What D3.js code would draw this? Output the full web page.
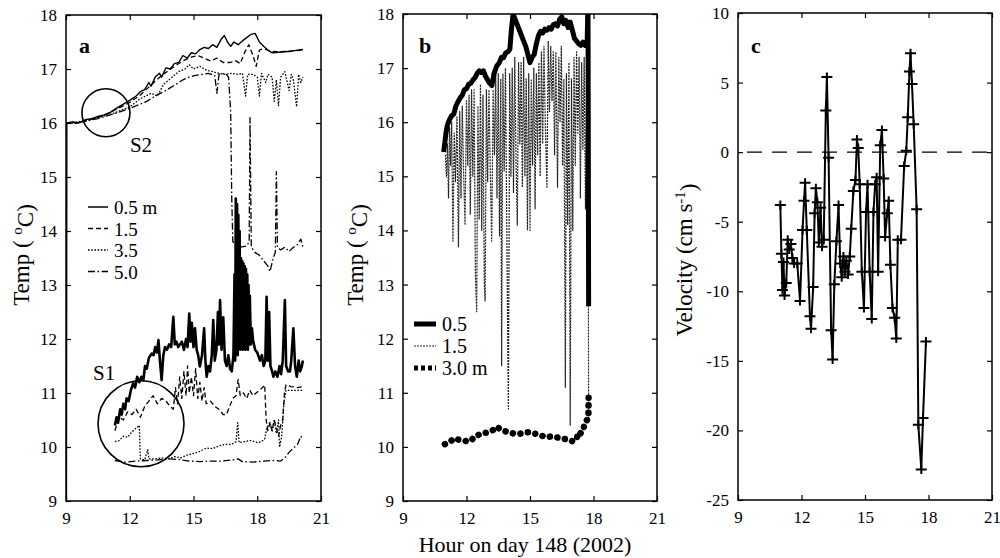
<!DOCTYPE html>
<html>
<head>
<meta charset="utf-8">
<script src="https://cdn.jsdelivr.net/npm/d3@7"></script>
<style>
  body { margin: 0; background: #fff; }
  svg { display: block; font-family: "Liberation Serif", "Times New Roman", serif; }
</style>
</head>
<body>
<div id="chart"></div>
<script>
// ---------------------------------------------------------------------------
// Data (hour on day 148, value)
// ---------------------------------------------------------------------------

const hourTicks = [9, 12, 15, 18, 21];
const tempTicks = [9, 10, 11, 12, 13, 14, 15, 16, 17, 18];
const velTicks  = [-25, -20, -15, -10, -5, 0, 5, 10];

const legendA = ['0.5 m', '1.5', '3.5', '5.0'];
const legendB = ['0.5', '1.5', '3.0 m'];

// circled sites in panel a: [hour, temp, label]
const sites = [[10.88, 16.19, 'S2'], [12.53, 10.43, 'S1']];

// panel a, site S2
const aS2_05 = [[9.02,9.0],[9.04,16.0],[9.3,16.02],[9.6,16.0],[9.9,16.06],[10.2,16.08],[10.5,16.12],[10.8,16.15],[11.1,16.2],[11.4,16.28],[11.7,16.35],[12.0,16.42],[12.3,16.5],[12.5,16.58],[12.7,16.62],[12.9,16.75],[13.0,16.68],[13.2,16.85],[13.4,16.92],[13.5,16.85],[13.7,17.02],[13.9,17.0],[14.1,17.1],[14.3,17.12],[14.5,17.25],[14.7,17.2],[14.9,17.3],[15.1,17.28],[15.3,17.36],[15.5,17.4],[15.7,17.38],[15.9,17.45],[16.1,17.4],[16.3,17.55],[16.45,17.62],[16.6,17.5],[16.75,17.42],[16.9,17.5],[17.1,17.45],[17.3,17.52],[17.5,17.58],[17.7,17.64],[17.9,17.66],[18.1,17.5],[18.3,17.42],[18.5,17.35],[18.7,17.3],[19.0,17.31],[19.3,17.32],[19.6,17.33],[19.9,17.35],[20.15,17.36]];
const aS2_15 = [[9.0,16.0],[9.5,16.0],[10.0,16.05],[10.5,16.1],[11.0,16.18],[11.5,16.28],[12.0,16.38],[12.5,16.52],[13.0,16.7],[13.5,16.88],[14.0,17.02],[14.5,17.15],[14.9,17.22],[15.2,17.25],[15.5,17.2],[15.8,17.15],[16.1,17.2],[16.4,17.12],[16.7,17.12],[17.0,17.15],[17.2,17.1],[17.4,17.3],[17.6,17.45],[17.8,17.25],[17.95,17.05],[18.1,17.35],[18.3,17.38],[18.6,17.33],[19.0,17.32],[19.5,17.33],[20.15,17.35]];
const aS2_35 = [[9.0,16.0],[9.5,16.02],[10.0,16.05],[10.5,16.1],[11.0,16.15],[11.5,16.22],[12.0,16.3],[12.5,16.45],[13.0,16.55],[13.3,16.5],[13.6,16.72],[14.0,16.85],[14.3,16.95],[14.6,17.0],[14.8,17.08],[15.0,17.0],[15.3,17.05],[15.6,16.98],[15.9,16.95],[16.2,16.92],[16.5,16.9],[16.8,16.92],[17.1,16.9],[17.3,16.92],[17.45,16.5],[17.55,16.9],[17.8,16.9],[18.0,16.85],[18.1,16.5],[18.2,16.92],[18.4,16.75],[18.5,16.9],[18.7,16.85],[18.8,16.4],[18.9,16.8],[19.0,16.32],[19.1,16.85],[19.3,16.95],[19.5,16.6],[19.6,16.9],[19.7,16.8],[19.85,16.3],[19.95,16.9],[20.05,16.75],[20.15,16.85]];
const aS2_50 = [[9.0,16.0],[9.5,16.0],[10.0,16.04],[10.5,16.08],[11.0,16.14],[11.5,16.2],[12.0,16.27],[12.5,16.35],[12.8,16.4],[13.0,16.45],[13.3,16.52],[13.6,16.58],[13.9,16.65],[14.2,16.72],[14.5,16.8],[14.8,16.85],[15.1,16.88],[15.4,16.9],[15.7,16.92],[16.0,16.88],[16.1,16.55],[16.2,16.9],[16.5,16.92],[16.65,16.85],[16.75,16.2],[16.8,14.6],[16.85,13.8],[17.0,13.75],[17.2,13.7],[17.5,13.72],[17.62,13.8],[17.66,16.1],[17.72,13.7],[17.9,13.6],[18.1,13.55],[18.3,13.45],[18.5,13.35],[18.6,13.25],[18.75,13.5],[18.85,13.6],[18.9,15.1],[18.95,13.7],[19.1,13.65],[19.3,13.7],[19.5,13.62],[19.7,13.7],[19.9,13.75],[20.05,13.85],[20.15,13.7]];

// panel a, site S1
const aS1_05 = [[11.3,10.4],[11.38,10.55],[11.45,10.45],[11.55,10.7],[11.62,10.6],[11.7,10.8],[11.78,10.7],[11.85,10.9],[11.95,10.85],[12.05,11.05],[12.16,11.18],[12.25,11.1],[12.35,11.3],[12.45,11.2],[12.55,11.3],[12.64,11.24],[12.72,11.5],[12.8,11.45],[12.9,11.65],[13.03,11.73],[13.12,11.7],[13.2,11.85],[13.28,11.75],[13.35,11.98],[13.42,11.6],[13.5,11.24],[13.58,11.7],[13.66,11.85],[13.75,11.8],[13.85,11.9],[13.95,11.85],[14.05,12.41],[14.12,11.9],[14.2,11.95],[14.28,11.85],[14.36,11.9],[14.45,11.95],[14.55,11.8],[14.65,12.0],[14.72,11.85],[14.8,12.47],[14.86,11.95],[14.92,12.3],[15.0,11.85],[15.07,12.2],[15.15,11.8],[15.22,11.7],[15.3,11.49],[15.4,11.7],[15.5,12.2],[15.56,11.6],[15.62,11.3],[15.7,11.5],[15.78,11.4],[15.86,11.7],[15.93,12.35],[16.0,11.6],[16.08,11.8],[16.15,12.5],[16.2,11.9],[16.25,12.72],[16.32,11.8],[16.4,12.4],[16.48,11.6],[16.56,11.5],[16.64,11.7],[16.72,11.45],[16.8,11.4],[16.88,11.7],[16.93,13.2],[16.96,11.6],[16.99,14.6],[17.02,11.8],[17.05,14.5],[17.08,11.7],[17.11,14.3],[17.14,11.9],[17.17,14.0],[17.2,11.8],[17.23,13.5],[17.26,11.9],[17.29,13.45],[17.32,11.8],[17.35,13.4],[17.38,11.9],[17.41,13.35],[17.44,11.8],[17.47,13.3],[17.5,11.9],[17.53,13.2],[17.56,11.8],[17.59,13.0],[17.62,11.9],[17.65,12.8],[17.7,11.9],[17.75,12.2],[17.8,11.98],[17.9,11.8],[18.0,11.75],[18.13,11.6],[18.22,11.7],[18.3,11.5],[18.38,11.6],[18.44,12.78],[18.5,11.6],[18.56,12.5],[18.62,11.5],[18.7,11.4],[18.76,11.3],[18.85,11.4],[18.95,11.3],[19.05,11.5],[19.12,11.35],[19.2,11.6],[19.3,12.72],[19.36,11.5],[19.45,11.4],[19.54,11.4],[19.6,11.6],[19.7,12.2],[19.78,11.5],[19.86,11.3],[19.95,11.6],[20.02,11.4],[20.1,11.5],[20.15,11.6]];
const aS1_15 = [[11.3,10.3],[11.5,10.55],[11.7,10.5],[11.9,10.65],[12.1,10.6],[12.3,10.7],[12.5,10.55],[12.7,10.75],[12.9,10.85],[13.1,10.95],[13.3,10.8],[13.5,10.9],[13.7,10.85],[13.9,10.75],[14.05,10.7],[14.15,11.1],[14.25,10.8],[14.35,11.3],[14.45,10.9],[14.55,11.4],[14.65,10.95],[14.72,11.5],[14.8,11.0],[14.9,11.3],[15.0,10.95],[15.1,11.45],[15.2,10.9],[15.3,11.2],[15.4,10.85],[15.5,11.1],[15.6,10.8],[15.8,10.85],[16.0,10.75],[16.2,10.7],[16.4,10.6],[16.55,10.6],[16.7,10.75],[16.85,10.9],[17.0,10.95],[17.1,11.25],[17.2,10.95],[17.35,11.0],[17.5,10.9],[17.65,11.05],[17.8,10.95],[17.95,11.0],[18.1,11.05],[18.25,11.1],[18.35,11.15],[18.42,10.5],[18.5,10.3],[18.6,10.45],[18.7,10.3],[18.8,10.5],[18.9,10.35],[19.0,10.2],[19.1,10.4],[19.2,10.5],[19.28,11.0],[19.35,11.15],[19.6,11.12],[19.9,11.1],[20.15,11.12]];
const aS1_35 = [[11.3,10.1],[11.5,10.12],[11.7,10.2],[11.9,10.18],[12.1,10.28],[12.3,10.35],[12.45,10.4],[12.5,9.78],[12.7,9.76],[12.85,9.95],[12.9,9.78],[13.2,9.78],[13.5,9.8],[13.8,9.78],[14.1,9.82],[14.4,9.8],[14.7,9.85],[15.0,9.88],[15.3,9.92],[15.6,9.98],[15.9,9.97],[16.2,10.02],[16.5,10.05],[16.8,10.05],[17.0,10.1],[17.08,10.45],[17.15,10.08],[17.4,10.1],[17.7,10.12],[18.0,10.08],[18.2,10.1],[18.35,10.15],[18.45,10.35],[18.6,10.45],[18.7,10.3],[18.8,10.5],[18.9,10.25],[19.0,10.5],[19.05,10.0],[19.15,10.2],[19.25,10.8],[19.35,11.05],[19.6,11.05],[19.9,11.05],[20.15,11.05]];
const aS1_50 = [[11.3,9.75],[11.8,9.72],[12.3,9.74],[12.8,9.75],[13.3,9.76],[13.8,9.78],[14.3,9.77],[14.8,9.74],[15.3,9.73],[15.8,9.74],[16.3,9.74],[16.8,9.76],[17.1,9.78],[17.3,9.73],[17.8,9.72],[18.3,9.74],[18.8,9.75],[19.1,9.74],[19.3,9.8],[19.5,9.9],[19.7,9.98],[19.9,10.05],[20.05,10.2],[20.15,10.15]];

// panel b
const b05 = [[10.92,15.45],[10.97,15.6],[11.03,15.8],[11.1,15.95],[11.2,16.05],[11.3,16.12],[11.4,16.15],[11.5,16.3],[11.6,16.38],[11.7,16.45],[11.8,16.5],[11.9,16.6],[12.0,16.62],[12.1,16.7],[12.2,16.72],[12.3,16.78],[12.4,16.82],[12.5,16.9],[12.6,16.95],[12.7,16.92],[12.8,16.95],[12.9,16.85],[13.0,16.78],[13.1,16.72],[13.2,16.68],[13.3,16.9],[13.43,17.04],[13.55,17.1],[13.65,17.2],[13.75,17.19],[13.85,17.28],[13.95,17.3],[14.05,17.35],[14.12,17.7],[14.2,18.0],[14.3,17.9],[14.4,17.8],[14.5,17.7],[14.6,17.6],[14.7,17.5],[14.8,17.4],[14.9,17.25],[15.0,17.1],[15.1,17.2],[15.2,17.25],[15.3,17.45],[15.4,17.6],[15.5,17.68],[15.6,17.65],[15.7,17.72],[15.8,17.7],[15.9,17.75],[16.0,17.72],[16.1,17.8],[16.2,17.82],[16.3,17.78],[16.4,17.9],[16.5,17.95],[16.6,17.82],[16.7,17.88],[16.8,17.75],[16.9,17.85],[17.0,17.7],[17.1,17.55],[17.2,17.5],[17.3,17.45],[17.4,17.42],[17.5,17.48],[17.6,17.42],[17.7,17.45],[17.74,18.3],[17.77,12.6]];
const b15 = [[11.0,15.4],[11.05,15.0],[11.1,15.6],[11.15,14.6],[11.2,15.9],[11.25,15.2],[11.3,16.0],[11.36,13.8],[11.42,15.8],[11.48,14.9],[11.55,16.1],[11.62,13.7],[11.68,16.2],[11.74,14.6],[11.8,16.3],[11.86,15.1],[11.93,14.1],[12.0,16.4],[12.06,15.2],[12.12,16.5],[12.18,14.3],[12.24,16.6],[12.3,15.0],[12.36,16.6],[12.42,13.2],[12.48,12.5],[12.54,16.3],[12.6,14.2],[12.66,16.7],[12.72,14.0],[12.78,16.5],[12.84,13.0],[12.88,12.7],[12.94,16.6],[13.0,14.9],[13.06,16.6],[13.12,15.2],[13.19,13.8],[13.26,16.6],[13.32,15.4],[13.38,16.9],[13.44,14.6],[13.5,16.9],[13.56,13.9],[13.62,16.8],[13.66,11.5],[13.72,16.9],[13.78,15.1],[13.84,17.0],[13.9,14.2],[13.98,10.7],[14.04,16.9],[14.1,15.0],[14.16,17.0],[14.22,14.7],[14.28,17.2],[14.34,15.3],[14.4,14.1],[14.46,17.1],[14.52,15.6],[14.58,17.1],[14.64,14.8],[14.7,17.2],[14.76,15.0],[14.82,16.8],[14.88,14.0],[14.94,16.9],[15.0,14.0],[15.06,16.8],[15.12,15.2],[15.18,17.0],[15.24,14.4],[15.3,16.9],[15.36,15.4],[15.42,17.1],[15.48,15.0],[15.54,17.3],[15.6,15.6],[15.66,17.4],[15.72,16.0],[15.8,14.8],[15.86,17.5],[15.92,16.2],[15.98,17.4],[16.04,16.4],[16.1,17.3],[16.16,15.4],[16.22,17.3],[16.3,14.8],[16.36,17.2],[16.42,16.0],[16.48,17.4],[16.54,15.2],[16.6,16.8],[16.67,11.1],[16.72,16.9],[16.78,14.1],[16.84,17.1],[16.9,10.4],[16.96,16.8],[17.02,14.0],[17.08,17.2],[17.14,15.2],[17.2,17.3],[17.26,15.8],[17.32,17.2],[17.38,14.6],[17.44,17.1],[17.5,15.5],[17.56,17.2],[17.62,14.4],[17.68,16.9],[17.74,16.5],[17.77,10.5]];
const b30 = [[10.98,10.05],[11.15,10.08],[11.3,10.12],[11.45,10.16],[11.65,10.13],[11.85,10.12],[12.05,10.1],[12.25,10.13],[12.4,10.2],[12.55,10.22],[12.7,10.25],[12.9,10.26],[13.1,10.28],[13.3,10.32],[13.45,10.37],[13.6,10.32],[13.75,10.3],[13.9,10.28],[14.05,10.27],[14.2,10.25],[14.35,10.24],[14.5,10.24],[14.8,10.27],[15.0,10.27],[15.15,10.25],[15.3,10.24],[15.45,10.22],[15.6,10.2],[15.75,10.18],[15.95,10.19],[16.15,10.18],[16.35,10.17],[16.55,10.15],[16.75,10.14],[16.9,10.12],[17.05,10.1],[17.2,10.15],[17.3,10.28],[17.4,10.25],[17.5,10.3],[17.6,10.45],[17.7,10.5],[17.76,10.55],[17.77,11.0]];

// panel c, velocity (cm/s)
const velHour = [11.0,11.05,11.1,11.15,11.2,11.28,11.35,11.42,11.5,11.57,11.65,11.8,11.93,12.05,12.12,12.17,12.25,12.4,12.45,12.55,12.62,12.68,12.75,12.82,12.9,12.97,13.05,13.15,13.2,13.28,13.4,13.47,13.55,13.65,13.75,13.83,13.9,13.98,14.05,14.12,14.2,14.28,14.35,14.45,14.55,14.62,14.68,14.75,14.85,14.95,15.05,15.12,15.22,15.32,15.4,15.48,15.55,15.62,15.72,15.8,15.88,15.95,16.05,16.12,16.2,16.3,16.4,16.48,16.55,16.7,16.85,16.95,17.02,17.1,17.15,17.22,17.3,17.44,17.52,17.66,17.74,17.88];
const velValue = [-3.8,-7.3,-9.9,-7.9,-10.3,-9.4,-6.3,-7.0,-6.6,-7.6,-8.0,-8.0,-10.7,-5.6,-3.5,-2.2,-5.6,-11.8,-12.7,-9.7,-4.4,-2.6,-3.6,-6.5,-4.0,-6.8,-6.3,3.0,5.4,-0.4,-12.8,-14.9,-9.5,-6.4,-3.8,-8.0,-9.0,-7.5,-8.6,-7.8,-8.8,-7.5,-5.5,-2.8,-2.0,0.9,0.3,-2.3,-8.6,-11.2,-4.3,-2.3,-8.6,-12.0,-4.3,-2.3,-1.8,-8.6,0.5,1.6,-1.9,-6.1,-4.4,-3.5,-8.1,-11.2,-11.9,-13.4,-6.3,-6.3,-1.0,0.1,2.5,5.8,7.1,4.9,2.0,-4.1,-19.6,-22.8,-19.1,-13.6];

// ---------------------------------------------------------------------------
// SVG setup
// ---------------------------------------------------------------------------

const width = 1000, height = 558;

const svg = d3.select('#chart').append('svg')
  .attr('width', width)
  .attr('height', height)
  .attr('viewBox', [0, 0, width, height]);

svg.append('rect').attr('width', width).attr('height', height).attr('fill', '#fff');

const fmt = d => String(d);

// frame + mirrored inside ticks, returns scales and a clipped layer
function panel(id, box, xDomain, yDomain, yTicks) {
  const x = d3.scaleLinear().domain(xDomain).range([box.x0, box.x1]);
  const y = d3.scaleLinear().domain(yDomain).range([box.y1, box.y0]);
  const g = svg.append('g').attr('id', id);

  g.append('clipPath').attr('id', id + '-clip')
    .append('rect')
    .attr('x', box.x0).attr('y', box.y0)
    .attr('width', box.x1 - box.x0).attr('height', box.y1 - box.y0);

  const layer = g.append('g').attr('clip-path', `url(#${id}-clip)`);

  const styleAxis = a => {
    a.select('.domain').remove();
    a.attr('font-family', null).attr('font-size', 17);
    a.selectAll('line').attr('stroke', '#000').attr('stroke-width', 1.2);
    a.selectAll('text').attr('fill', '#000');
  };

  g.append('g').attr('transform', `translate(0,${box.y1})`)
    .call(d3.axisBottom(x).tickValues(hourTicks).tickSizeInner(-5).tickSizeOuter(0).tickPadding(11).tickFormat(fmt))
    .call(styleAxis);
  g.append('g').attr('transform', `translate(0,${box.y0})`)
    .call(d3.axisTop(x).tickValues(hourTicks).tickSizeInner(-5).tickSizeOuter(0).tickFormat(''))
    .call(styleAxis);
  g.append('g').attr('transform', `translate(${box.x0},0)`)
    .call(d3.axisLeft(y).tickValues(yTicks).tickSizeInner(-5).tickSizeOuter(0).tickPadding(9).tickFormat(fmt))
    .call(styleAxis);
  g.append('g').attr('transform', `translate(${box.x1},0)`)
    .call(d3.axisRight(y).tickValues(yTicks).tickSizeInner(-5).tickSizeOuter(0).tickFormat(''))
    .call(styleAxis);

  g.append('rect')
    .attr('x', box.x0).attr('y', box.y0)
    .attr('width', box.x1 - box.x0).attr('height', box.y1 - box.y0)
    .attr('fill', 'none').attr('stroke', '#000').attr('stroke-width', 1.5);

  return { x, y, g, layer };
}

function yTitle(g, xPos, yPos, main, sup, tail) {
  const t = g.append('text')
    .attr('transform', `translate(${xPos},${yPos}) rotate(-90)`)
    .attr('text-anchor', 'middle')
    .attr('font-size', 23)
    .attr('fill', '#000');
  t.append('tspan').text(main);
  t.append('tspan').attr('dy', '-0.45em').attr('font-size', 15).text(sup);
  t.append('tspan').attr('dy', '0.45em').text(tail);
}

function series(layer, sc, data, style) {
  const line = d3.line().x(d => sc.x(d[0])).y(d => sc.y(d[1]));
  layer.append('path')
    .datum(data)
    .attr('d', line)
    .attr('fill', 'none')
    .attr('stroke', style.color || '#000')
    .attr('stroke-width', style.width)
    .attr('stroke-dasharray', style.dash || null)
    .attr('stroke-linecap', style.cap || 'butt')
    .attr('stroke-linejoin', 'round');
}

// ---------------------------------------------------------------------------
// Panel a
// ---------------------------------------------------------------------------

const A = panel('panel-a', { x0: 66, x1: 321, y0: 15, y1: 501 }, [9, 21], [9, 18], tempTicks);

const styleA = [
  { width: 1.4 },
  { width: 1.3, dash: '5,3' },
  { width: 1.3, dash: '1.6,1.6' },
  { width: 1.3, dash: '7,2.5,1.6,2.5' }
];

[aS2_05, aS2_15, aS2_35, aS2_50].forEach((d, i) => series(A.layer, A, d, styleA[i]));
[aS1_50, aS1_35, aS1_15].forEach((d, i) => series(A.layer, A, d, styleA[3 - i]));
series(A.layer, A, aS1_05, { width: 2.6 });

A.g.selectAll('circle.site')
  .data(sites)
  .join('circle')
  .attr('class', 'site')
  .attr('cx', d => A.x(d[0]))
  .attr('cy', d => A.y(d[1]))
  .attr('r', (d, i) => i === 0 ? 24 : 43)
  .attr('fill', 'none')
  .attr('stroke', '#000')
  .attr('stroke-width', 1.6);

A.g.selectAll('text.site')
  .data(sites)
  .join('text')
  .attr('class', 'site')
  .attr('x', (d, i) => A.x(d[0]) + (i === 0 ? 24 : -48))
  .attr('y', (d, i) => A.y(d[1]) + (i === 0 ? 39 : -44))
  .attr('font-size', 21)
  .text(d => d[2]);

const legA = A.g.append('g').attr('transform', 'translate(88,207)');
legendA.forEach((lab, i) => {
  legA.append('line')
    .attr('x1', 0).attr('x2', 20).attr('y1', i * 21.5).attr('y2', i * 21.5)
    .attr('stroke', '#000').attr('stroke-width', 1.5)
    .attr('stroke-dasharray', styleA[i].dash || null);
  legA.append('text')
    .attr('x', 26).attr('y', i * 21.5 + 7)
    .attr('font-size', 19)
    .text(lab);
});

A.g.append('text').attr('x', 79).attr('y', 53)
  .attr('font-size', 22).attr('font-weight', 'bold').text('a');

yTitle(A.g, 29, 255, 'Temp ( ', 'o', 'C)');

// ---------------------------------------------------------------------------
// Panel b
// ---------------------------------------------------------------------------

const B = panel('panel-b', { x0: 403, x1: 657, y0: 14, y1: 501 }, [9, 21], [9, 18], tempTicks);

series(B.layer, B, b15, { width: 1.2, dash: '2,1', color: '#222' });
series(B.layer, B, b30, { width: 6.5, dash: '0.1,7.5', cap: 'round' });
series(B.layer, B, b05, { width: 5 });

const legB = B.g.append('g').attr('transform', 'translate(414,324)');
const styleB = [
  { width: 5 },
  { width: 1.2, dash: '2,1', color: '#222' },
  { width: 5, dash: '4,3' }
];
legendB.forEach((lab, i) => {
  legB.append('line')
    .attr('x1', 0).attr('x2', 22).attr('y1', i * 22).attr('y2', i * 22)
    .attr('stroke', styleB[i].color || '#000').attr('stroke-width', styleB[i].width)
    .attr('stroke-dasharray', styleB[i].dash || null);
  legB.append('text')
    .attr('x', 28).attr('y', i * 22 + 7)
    .attr('font-size', 20)
    .text(lab);
});

B.g.append('text').attr('x', 419).attr('y', 53)
  .attr('font-size', 22).attr('font-weight', 'bold').text('b');

yTitle(B.g, 363, 255, 'Temp ( ', 'o', 'C)');

svg.append('text')
  .attr('x', 525).attr('y', 552)
  .attr('text-anchor', 'middle')
  .attr('font-size', 22)
  .text('Hour on day 148 (2002)');

// ---------------------------------------------------------------------------
// Panel c
// ---------------------------------------------------------------------------

const C = panel('panel-c', { x0: 738, x1: 992, y0: 13, y1: 500 }, [9, 21], [-25, 10], velTicks);

const velData = velHour.map((h, i) => [h, velValue[i]]);

C.layer.append('line')
  .attr('x1', C.x(9)).attr('x2', C.x(21))
  .attr('y1', C.y(0)).attr('y2', C.y(0))
  .attr('stroke', '#000').attr('stroke-width', 1.2)
  .attr('stroke-dasharray', '15,10')
  .attr('stroke-dashoffset', -9);

series(C.layer, C, velData, { width: 2 });

C.layer.append('g')
  .selectAll('path')
  .data(velData)
  .join('path')
  .attr('transform', d => `translate(${C.x(d[0])},${C.y(d[1])})`)
  .attr('d', 'M-5.5,0H5.5M0,-4.5V4.5')
  .attr('stroke', '#000')
  .attr('stroke-width', 2)
  .attr('fill', 'none');

C.g.append('text').attr('x', 751).attr('y', 53)
  .attr('font-size', 22).attr('font-weight', 'bold').text('c');

yTitle(C.g, 692, 260, 'Velocity (cm s', '-1', ')');
</script>
</body>
</html>
